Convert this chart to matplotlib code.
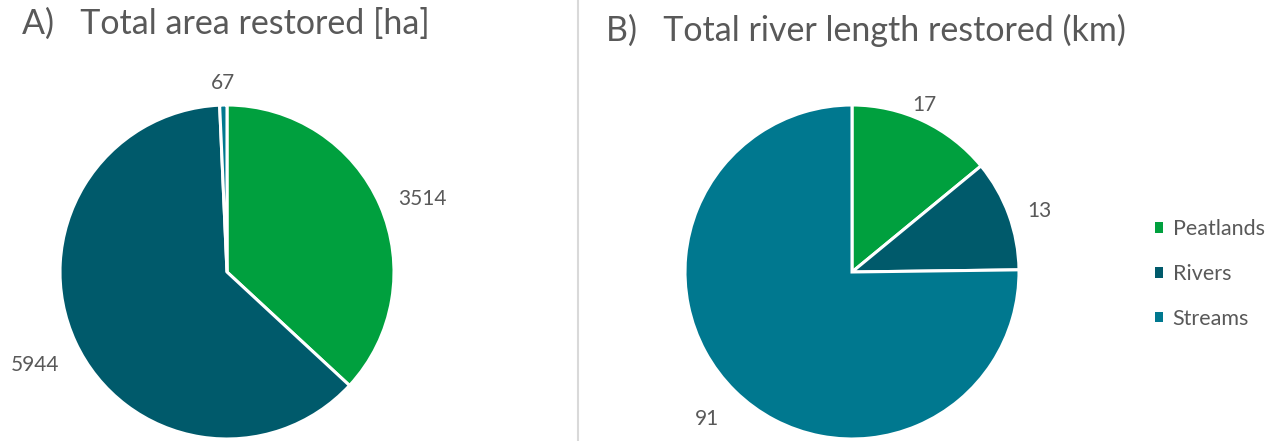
import numpy as np
import matplotlib
matplotlib.use("Agg")
import matplotlib.pyplot as plt
from matplotlib.lines import Line2D
from matplotlib.patches import Patch

categories = ["Peatlands", "Rivers", "Streams"]
area_values = [3514, 5944, 67]
length_values = [17, 13, 91]
title_a = "A)   Total area restored [ha]"
title_b = "B)   Total river length restored (km)"
colors = ["#00A03E", "#005A6B", "#00788F"]
text_color = "#595959"

W, H = 1285, 441
fig = plt.figure(figsize=(W / 100, H / 100), dpi=100)
fig.patch.set_facecolor("white")
FONT = ["Lato", "DejaVu Sans"]

R = 167


def make_ax(cx, cy):
    ax = fig.add_axes([(cx - R) / W, (H - cy - R) / H, 2 * R / W, 2 * R / H])
    ax.axis("off")
    return ax


def draw_pie(ax, values, dists, angle_shift):
    wedges, _ = ax.pie(values, colors=colors, startangle=90, counterclock=False,
                       radius=1, wedgeprops=dict(edgecolor="white", linewidth=2.2),
                       frame=False)
    ax.set_xlim(-1, 1)
    ax.set_ylim(-1, 1)
    ax.set_aspect("auto")
    for w, v, d, s in zip(wedges, values, dists, angle_shift):
        mid = np.deg2rad((w.theta1 + w.theta2) / 2 + s)
        ax.text(d * np.cos(mid), d * np.sin(mid), str(v), ha="center", va="center",
                fontsize=15, color=text_color, family=FONT, clip_on=False)


axA = make_ax(227, 272)
draw_pie(axA, area_values, [1.25, 1.28, 1.13], [-3, 1, 0])
axB = make_ax(852, 272)
draw_pie(axB, length_values, [1.09, 1.18, 1.24], [2, -2, 0])

fig.text(22 / W, 1 - 24 / H, title_a, ha="left", va="center", fontsize=24.5,
         color=text_color, family=FONT)
fig.text(606 / W, 1 - 30 / H, title_b, ha="left", va="center", fontsize=24.5,
         color=text_color, family=FONT)

fig.add_artist(Line2D([578 / W, 578 / W], [0, 1], transform=fig.transFigure,
                      color="#D9D9D9", linewidth=1.5))

handles = [Patch(facecolor=c, edgecolor="none") for c in colors]
leg = fig.legend(handles, categories, loc="center left",
                 bbox_to_anchor=(1155 / W, 1 - 274 / H),
                 frameon=False, handlelength=0.37, handleheight=0.37,
                 handletextpad=0.45, labelspacing=1.15, borderpad=0, borderaxespad=0,
                 prop={"family": FONT, "size": 15.5})
for t in leg.get_texts():
    t.set_color(text_color)

fig.savefig("out.png", dpi=100, facecolor="white")
